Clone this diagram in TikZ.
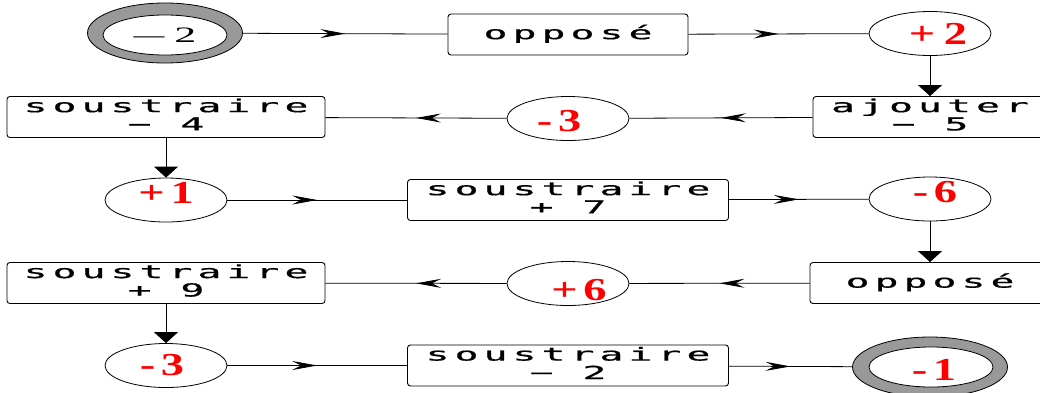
\documentclass[tikz,border=0pt]{standalone}
\usepackage{fontspec}
\usepackage{graphicx}
\usepackage{xcolor}
\usetikzlibrary{arrows.meta,positioning,shapes.geometric,decorations.markings}
\newfontfamily\boxfont[LetterSpace=13,FakeBold=0.6]{DejaVu Sans Mono}
\newfontfamily\numfont{Liberation Serif}
\definecolor{ringgray}{rgb}{0.6,0.6,0.6}
% wide lettering of the operation boxes
\newcommand{\wide}[1]{\scalebox{2.2}[1]{\begin{tabular}{@{}c@{}}#1\end{tabular}}}
% red value: #1 = twice the shift to the right, #2 = shift up
\newcommand{\moved}[3]{\hspace*{#1}\raisebox{#2}[\height][\depth]{\scalebox{1.45}[1]{#3}}}

\tikzset{
  opbox/.style={draw, rounded corners=3pt, line width=0.9pt, inner sep=0pt,
    minimum height=41pt,
    font=\boxfont\fontsize{18}{17}\selectfont},
  value/.style={ellipse, draw, line width=0.8pt, inner sep=0pt,
    minimum width=122pt, minimum height=44pt, text=red,
    font=\numfont\bfseries\fontsize{32}{32}\selectfont},
  ring/.style={ellipse, draw, line width=0.8pt, fill=ringgray, inner sep=0pt,
    minimum width=155pt, minimum height=60pt},
  ringin/.style={ellipse, draw, line width=0.8pt, fill=white, inner sep=0pt,
    minimum width=124pt, minimum height=40pt},
  midarrow/.style={decoration={markings,
      mark=at position 0.5 with {\arrow{Stealth[length=25pt,width=9pt,inset=9pt]}}},
    postaction={decorate}},
  downarrow/.style={-{Triangle[length=11pt,width=24pt]}}
}

\begin{document}
\begin{tikzpicture}[x=1pt,y=1pt,node distance=83pt,on grid,line width=0.8pt]
\useasboundingbox (0,0) rectangle (1040,-392);

% row 1
\node[ring] (x1) at (165,-33) {};
\node[ringin] (x1i) at (165,-35) {\numfont\fontsize{22}{22}\selectfont
  \scalebox{1.4}[1]{\textemdash}\hspace{10pt}\scalebox{2}[1]{2}};
\node[opbox, minimum width=240pt] (x2) at (568,-34.5) {\wide{opposé}};
\node[value] (x3) at (930,-33.5) {\moved{16pt}{0pt}{+\kern6pt2}};

% row 2
\node[opbox, minimum width=234pt] (x4) [below=83.5pt of x3] {\wide{ajouter\\− 5}};
\node[value] (x5) at (568,-118.5) {\moved{-18pt}{-3pt}{-\kern4pt3}};
\node[opbox, minimum width=318pt] (x6) at (166,-117) {\wide{soustraire\\− 4}};

% row 3
\node[value] (x7) [below=83pt of x6] {\moved{0pt}{7pt}{+\kern4pt1}};
\node[opbox, minimum width=321pt] (x8) [right=402pt of x7] {\wide{soustraire\\+ 7}};
\node[value] (x9) at (930,-199) {\moved{10pt}{7pt}{-\kern4pt6}};

% row 4
\node[opbox, minimum width=240pt] (x10) [below=84pt of x9] {\wide{opposé}};
\node[value] (x11) at (568,-283.5) {\moved{22pt}{-7pt}{+\kern4pt6}};
\node[opbox, minimum width=318pt] (x12) at (166,-283) {\wide{soustraire\\+ 9}};

% row 5
\node[value] (x13) at (166,-365.5) {\moved{-8pt}{0pt}{-\kern4pt3}};
\node[opbox, minimum width=321pt] (x14) [right=402pt of x13] {\wide{soustraire\\− 2}};
\node[ring] (x15) at (930,-367) {};
\node[ringin] (x15i) at (931,-367) {\numfont\bfseries\color{red}\fontsize{32}{32}\selectfont\moved{6pt}{-3pt}{-\kern4pt1}};

\path[draw]
    (x1)  edge[midarrow] (x2)
    (x2)  edge[midarrow] (x3)
    (x4)  edge[midarrow] (x5)
    (x5)  edge[midarrow] (x6)
    (x7)  edge[midarrow] (x8)
    (x8)  edge[midarrow] (x9)
    (x10) edge[midarrow] (x11)
    (x11) edge[midarrow] (x12)
    (x13) edge[midarrow] (x14)
    (x14) edge[midarrow] (x15);

\path[draw]
    (x3)  edge[downarrow] (x4)
    (x6)  edge[downarrow] (x7)
    (x9)  edge[downarrow] (x10)
    (x12) edge[downarrow] (x13);
\end{tikzpicture}
\end{document}
